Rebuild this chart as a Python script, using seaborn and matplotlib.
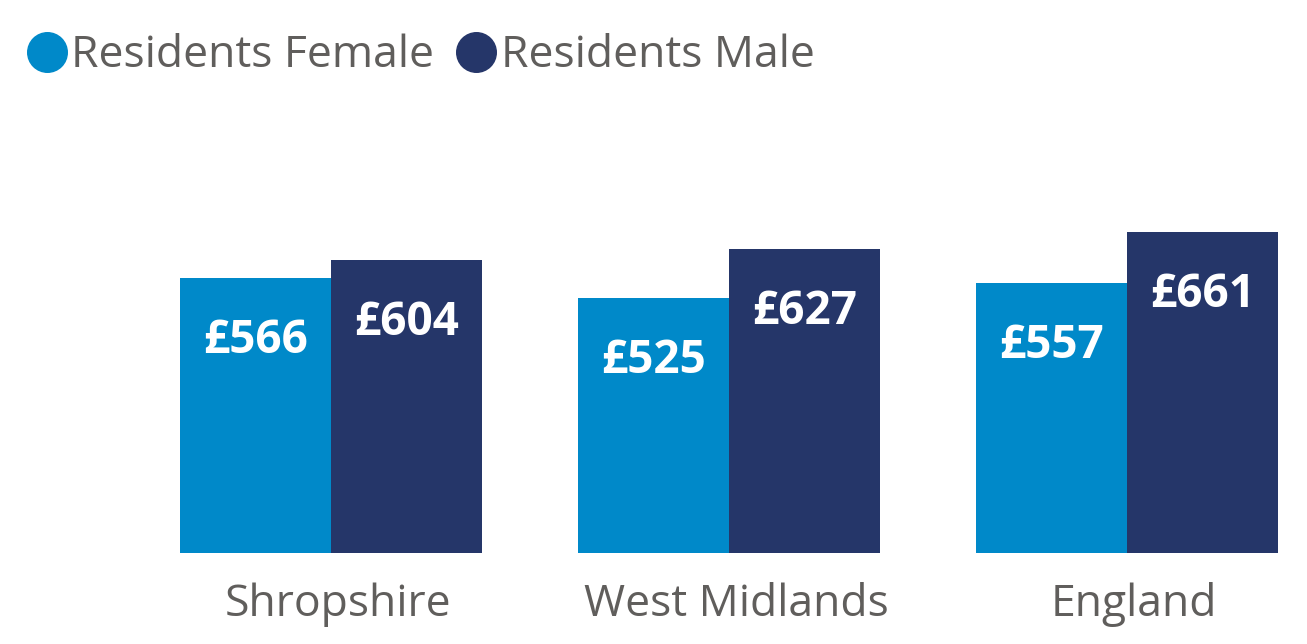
import numpy as np
import pandas as pd
import seaborn as sns
import matplotlib.pyplot as plt
import matplotlib.transforms as mtransforms
from matplotlib.lines import Line2D

# weekly pay by residence and sex
regions = ["Shropshire", "West Midlands", "England"]
female_pay = [566, 525, 557]
male_pay = [604, 627, 661]
series = ["Residents Female", "Residents Male"]
colors = ["#0089C9", "#253669"]
text_grey = "#605E5C"

df = pd.DataFrame({
    "Region": regions * 2,
    "Pay": female_pay + male_pay,
    "Sex": [series[0]] * 3 + [series[1]] * 3,
})

sns.set_style("white")
plt.rcParams["font.family"] = ["Open Sans", "DejaVu Sans"]

fig = plt.figure(figsize=(13.07, 6.44), dpi=100)
ax = fig.add_axes([0.101, 0.1413, 0.899, 0.548])

sns.barplot(data=df, x="Region", y="Pay", hue="Sex", palette=colors,
            width=0.76, saturation=1, legend=False, linewidth=0, ax=ax)

ax.set_xlim(-0.5, 2.452)
ax.set_ylim(0, 726.8)

# value labels inside bar tops
for cont in ax.containers:
    for bar, val in zip(cont, cont.datavalues):
        ax.annotate(f"£{val:.0f}", (bar.get_x() + bar.get_width() / 2, bar.get_height()),
                    xytext=(0, -54), textcoords="offset points",
                    ha="center", va="baseline", color="white",
                    fontsize=33, fontweight="bold")

ax.set_xlabel("")
ax.set_ylabel("")
ax.set_yticks([])
ax.tick_params(axis="x", length=0, pad=21, labelsize=32, labelcolor=text_grey)
# nudge category labels slightly right, like the original
shift = mtransforms.ScaledTranslation(7 / 100, 0, fig.dpi_scale_trans)
for lab in ax.get_xticklabels():
    lab.set_transform(lab.get_transform() + shift)
sns.despine(ax=ax, left=True, bottom=True)

handles = [Line2D([], [], marker="o", linestyle="", markersize=28.5,
                  markerfacecolor=c, markeredgecolor=c) for c in colors]
fig.legend(handles, series, loc="upper left", bbox_to_anchor=(0.005, 0.975),
           frameon=False, ncol=2, fontsize=32, labelcolor=text_grey,
           handletextpad=0.05, columnspacing=0.45, handlelength=1.0,
           borderaxespad=0)

fig.savefig("out.png", dpi=100)
